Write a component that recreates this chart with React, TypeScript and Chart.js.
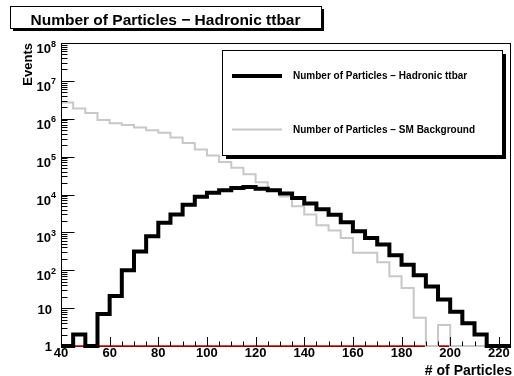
import React, { useEffect, useRef } from "react";
import { Chart, registerables } from "chart.js";

Chart.register(...registerables);

// ---------- data ----------
const binWidth = 5;
const binEdges = [
  40, 45, 50, 55, 60, 65, 70, 75, 80, 85, 90, 95, 100, 105, 110, 115, 120, 125, 130,
  135, 140, 145, 150, 155, 160, 165, 170, 175, 180, 185, 190, 195, 200, 205, 210, 215, 220,
];
const signalTtbar = [
  1, 2, 1, 7, 21, 100, 315, 790, 1800, 2950, 5400, 8700, 11200, 13000, 14800, 15800,
  14100, 12900, 10700, 8100, 5750, 4100, 2900, 1850, 1070, 710, 480, 250, 140, 74, 37,
  17, 8, 4, 2, 1, 0,
];
const smBackground = [
  2700000, 1860000, 1410000, 930000, 760000, 680000, 590000, 500000, 430000, 320000,
  230000, 155000, 107000, 72000, 51000, 34000, 21000, 13500, 8900, 4900, 2950, 1550,
  1120, 710, 290, 290, 162, 69, 34, 5.6, 0, 3.6, 0, 0, 0, 0, 0,
];
const emptyHist = binEdges.map(() => 0);

const xMin = 40;
const xMax = 225;
const yMin = 1;
const yMax = 1e8;
const xMajorTicks = [40, 60, 80, 100, 120, 140, 160, 180, 200, 220];
const yDecades = [0, 1, 2, 3, 4, 5, 6, 7, 8];

const titleText = "Number of Particles \u2212 Hadronic ttbar";
const legendLabels = [
  "Number of Particles \u2212 Hadronic ttbar",
  "Number of Particles \u2212 SM Background",
];
const xTitle = "# of Particles";
const yTitle = "Events";

const FONT = '"Liberation Sans", Arial, Helvetica, sans-serif';

function toSteps(vals: number[]) {
  const pts = vals.map((v, i) => ({ x: binEdges[i], y: Math.max(v, yMin) }));
  const last = vals.length - 1;
  pts.push({ x: binEdges[last] + binWidth, y: Math.max(vals[last], yMin) });
  return pts;
}

const decor = {
  id: "rootDecor",
  beforeDatasetsDraw(chart: any) {
    const ctx: CanvasRenderingContext2D = chart.ctx;
    const { left, right, top, bottom } = chart.chartArea;
    ctx.save();
    ctx.strokeStyle = "#000";
    ctx.lineWidth = 1;
    ctx.strokeRect(left + 0.5, top + 0.5, right - left - 1, bottom - top);
    ctx.restore();
  },
  afterDatasetsDraw(chart: any) {
    const ctx: CanvasRenderingContext2D = chart.ctx;
    const xs = chart.scales.x;
    const ys = chart.scales.y;
    const { left, right, top, bottom } = chart.chartArea;
    ctx.save();

    // left axis line
    ctx.strokeStyle = "#000";
    ctx.lineWidth = 1;
    ctx.beginPath();
    ctx.moveTo(left + 0.5, top);
    ctx.lineTo(left + 0.5, bottom);
    ctx.stroke();

    // y ticks
    ctx.beginPath();
    for (const n of yDecades) {
      const y = Math.round(ys.getPixelForValue(Math.pow(10, n))) + 0.5;
      ctx.moveTo(left, y);
      ctx.lineTo(left + 13.5, y);
      if (n < 8) {
        for (let k = 2; k <= 9; k++) {
          const ym = Math.round(ys.getPixelForValue(k * Math.pow(10, n))) + 0.5;
          ctx.moveTo(left, ym);
          ctx.lineTo(left + 6.5, ym);
        }
      }
    }
    // x ticks
    for (let v = xMin; v < xMax; v += binWidth) {
      const x = Math.round(xs.getPixelForValue(v)) + 0.5;
      const len = v % 20 === 0 ? 9 : 4.5;
      ctx.moveTo(x, bottom);
      ctx.lineTo(x, bottom - len);
    }
    ctx.stroke();

    // x labels
    ctx.fillStyle = "#000";
    ctx.font = `bold 13px ${FONT}`;
    ctx.textAlign = "center";
    ctx.textBaseline = "alphabetic";
    for (const v of xMajorTicks) {
      ctx.fillText(String(v), xs.getPixelForValue(v), 356.5);
    }

    // y labels
    for (const n of yDecades) {
      const y = ys.getPixelForValue(Math.pow(10, n));
      if (n === 0) {
        ctx.font = `bold 13px ${FONT}`;
        ctx.textAlign = "right";
        ctx.fillText("1", 52, y + 5);
      } else if (n === 1) {
        ctx.font = `bold 13px ${FONT}`;
        ctx.textAlign = "right";
        ctx.fillText("10", 52, y + 5.5);
      } else {
        ctx.font = `bold 9px ${FONT}`;
        ctx.textAlign = "right";
        const exp = String(n);
        const ew = ctx.measureText(exp).width;
        ctx.fillText(exp, 56, y + 3.5);
        ctx.font = `bold 13px ${FONT}`;
        ctx.fillText("10", 56 - ew, y + 10);
      }
    }

    // axis titles
    ctx.font = `bold 14px ${FONT}`;
    ctx.textAlign = "right";
    ctx.fillText(xTitle, 512, 375);
    ctx.save();
    ctx.translate(31.5, 43);
    ctx.rotate(-Math.PI / 2);
    ctx.font = `bold 13px ${FONT}`;
    ctx.textAlign = "right";
    ctx.textBaseline = "alphabetic";
    ctx.fillText(yTitle, 0, 0);
    ctx.restore();

    // legend box
    const lx = 222, ly = 50, lw = 280, lh = 105;
    ctx.fillStyle = "#000";
    ctx.fillRect(lx + 4, ly + 4, lw, lh);
    ctx.fillStyle = "#fff";
    ctx.fillRect(lx, ly, lw, lh);
    ctx.strokeStyle = "#000";
    ctx.lineWidth = 1;
    ctx.strokeRect(lx + 0.5, ly + 0.5, lw, lh);
    const ds = chart.data.datasets;
    const rows = [76, 129.5];
    ctx.font = `bold 10px ${FONT}`;
    ctx.textAlign = "left";
    ctx.textBaseline = "middle";
    rows.forEach((ry, i) => {
      ctx.strokeStyle = ds[i].borderColor;
      ctx.lineWidth = ds[i].borderWidth;
      ctx.beginPath();
      ctx.moveTo(232, ry);
      ctx.lineTo(282, ry);
      ctx.stroke();
      ctx.fillStyle = "#000";
      ctx.fillText(legendLabels[i], 293, ry + 0.5);
    });

    // title box
    ctx.font = `bold 15.5px ${FONT}`;
    ctx.textBaseline = "alphabetic";
    ctx.textAlign = "left";
    const tw = ctx.measureText(titleText).width;
    const bx = 10, by = 6, bw = tw + 41, bh = 22;
    ctx.fillStyle = "#000";
    ctx.fillRect(bx + 3, by + 3, bw, bh);
    ctx.fillStyle = "#fff";
    ctx.fillRect(bx, by, bw, bh);
    ctx.strokeStyle = "#000";
    ctx.lineWidth = 1;
    ctx.strokeRect(bx + 0.5, by + 0.5, bw, bh);
    ctx.fillStyle = "#000";
    ctx.fillText(titleText, 30.5, 25);

    ctx.restore();
  },
};

export default function App() {
  const ref = useRef<HTMLCanvasElement>(null);
  useEffect(() => {
    const canvas = ref.current!;
    const chart = new Chart(canvas, {
      type: "line",
      data: {
        datasets: [
          {
            label: legendLabels[0],
            data: toSteps(signalTtbar),
            borderColor: "#000000",
            borderWidth: 4,
            stepped: true,
            pointRadius: 0,
            fill: false,
            borderJoinStyle: "miter",
            borderCapStyle: "butt",
            clip: 4,
          },
          {
            label: legendLabels[1],
            data: toSteps(smBackground),
            borderColor: "#c8c8c8",
            borderWidth: 2,
            stepped: true,
            pointRadius: 0,
            fill: false,
            borderJoinStyle: "miter",
            clip: 3,
          },
          {
            label: "empty",
            data: toSteps(emptyHist),
            borderColor: "#cc0000",
            borderWidth: 1.5,
            stepped: true,
            pointRadius: 0,
            fill: false,
            clip: 3,
          },
        ],
      } as any,
      options: {
        responsive: false,
        animation: false,
        devicePixelRatio: 1,
        layout: { padding: { left: 61, top: 43, right: 3, bottom: 30 } },
        scales: {
          x: { type: "linear", min: xMin, max: xMax, display: false },
          y: { type: "logarithmic", min: yMin, max: yMax, display: false },
        },
        plugins: { legend: { display: false }, tooltip: { enabled: false }, title: { display: false } },
        elements: { point: { radius: 0 }, line: { tension: 0 } },
      } as any,
      plugins: [decor],
    });
    return () => chart.destroy();
  }, []);
  return (
    <div style={{ position: "absolute", left: 0, top: 0, width: 514, height: 376, background: "#fff" }}>
      <canvas ref={ref} width={514} height={376} style={{ display: "block", width: 514, height: 376 }} />
    </div>
  );
}
